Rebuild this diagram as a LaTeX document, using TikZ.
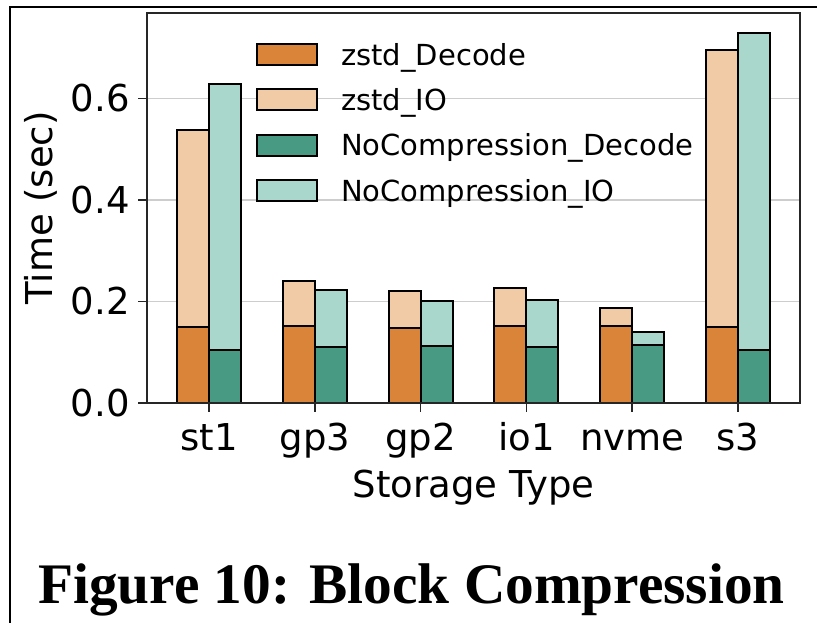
\documentclass[tikz,border=0pt]{standalone}
\usepackage{fontspec}
\setmainfont{DejaVu Sans}
\newfontfamily\capfont{Liberation Serif}
\definecolor{zdec}{RGB}{218,132,58}
\definecolor{zio}{RGB}{241,202,166}
\definecolor{ndec}{RGB}{72,155,130}
\definecolor{nio}{RGB}{170,215,204}
\definecolor{gridc}{RGB}{205,205,205}
\newcommand{\stackbar}[5]{%
  \filldraw[barstyle, fill=#5] (#1,403) rectangle ({#1+32},{403-507.5*#3});
  \filldraw[barstyle, fill=#4] (#1,403) rectangle ({#1+32},{403-507.5*#2});
}
\tikzset{
  barstyle/.style={draw=black, line width=1.5pt},
  gridline/.style={draw=gridc, line width=1.1pt},
  spine/.style={draw=black!85, line width=1.1pt},
  ticklab/.style={inner sep=0pt, font=\fontsize{27.75}{32}\selectfont},
  leglab/.style={inner sep=0pt, anchor=base west, font=\fontsize{21.75}{26}\selectfont},
  legpatch/.style={draw=black, line width=1.5pt},
}
\begin{document}
\begin{tikzpicture}[x=0.75pt,y=-0.75pt]
\useasboundingbox (0,0) rectangle (817,623);
% outer frame
\draw[line width=0.9pt] (10,623) -- (10,7) -- (817,7);
% grid
\foreach \v in {0.2,0.4,0.6}{
  \draw[gridline] (147,{403-507.5*\v}) -- (800,{403-507.5*\v});
}
% bars (zstd left of tick, NoCompression right of tick)
\stackbar{177}{0.150}{0.538}{zdec}{zio}
\stackbar{209}{0.104}{0.628}{ndec}{nio}
\stackbar{282.8}{0.152}{0.240}{zdec}{zio}
\stackbar{314.8}{0.111}{0.223}{ndec}{nio}
\stackbar{388.6}{0.147}{0.221}{zdec}{zio}
\stackbar{420.6}{0.113}{0.201}{ndec}{nio}
\stackbar{494.4}{0.152}{0.226}{zdec}{zio}
\stackbar{526.4}{0.111}{0.203}{ndec}{nio}
\stackbar{600.2}{0.152}{0.187}{zdec}{zio}
\stackbar{632.2}{0.114}{0.139}{ndec}{nio}
\stackbar{706}{0.150}{0.696}{zdec}{zio}
\stackbar{738}{0.104}{0.730}{ndec}{nio}
% spines
\draw[spine] (147,13) rectangle (800,403);
% y ticks
\foreach \v/\t in {0.0/0.0,0.2/0.2,0.4/0.4,0.6/0.6}{
  \draw[spine] (138,{403-507.5*\v}) -- (147,{403-507.5*\v});
  \node[ticklab, anchor=east] (y\t) at (130,{403-507.5*\v}) {\t};
}
% x ticks
\foreach \x/\t in {209/st1,314.8/gp3,420.6/gp2,526.4/io1,632.2/nvme,738/s3}{
  \draw[spine] (\x,403) -- (\x,412);
  \node[ticklab, anchor=base] (x\t) at (\x,450) {\t};
}
\node[ticklab, anchor=base] (xlabel) at (473.5,497) {Storage Type};
\node[ticklab, anchor=base, rotate=90] (ylabel) at (52,208) {Time (sec)};
% legend
\draw[legpatch, fill=zdec] (257,44.5) rectangle (317,65.5);
\node[leglab] (l1) at (341,65.5) {zstd\_Decode};
\draw[legpatch, fill=zio] (257,89.5) rectangle (317,110.5);
\node[leglab] (l2) at (341,110.5) {zstd\_IO};
\draw[legpatch, fill=ndec] (257,135) rectangle (317,156);
\node[leglab] (l3) at (341,156) {NoCompression\_Decode};
\draw[legpatch, fill=nio] (257,180.5) rectangle (317,201.5);
\node[leglab] (l4) at (341,201.5) {NoCompression\_IO};
% caption
\node[inner sep=0pt, anchor=base, font=\capfont\bfseries\fontsize{43}{50}\selectfont] (cap) at (411.5,603) {Figure 10: Block Compression};
\end{tikzpicture}
\end{document}
